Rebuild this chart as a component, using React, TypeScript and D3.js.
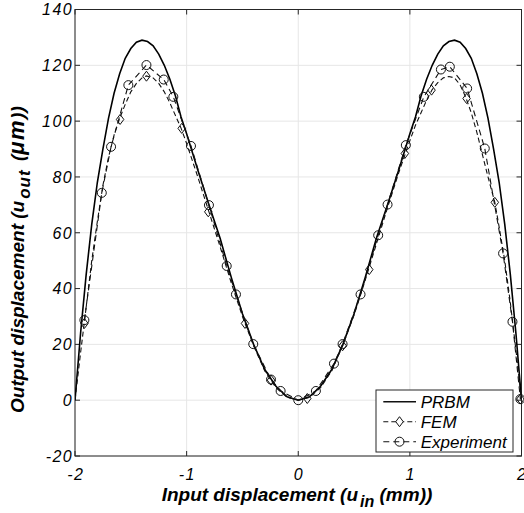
import React from "react";
import * as d3 from "d3";

const xTicks = [-2, -1, 0, 1, 2];
const yTicks = [-20, 0, 20, 40, 60, 80, 100, 120, 140];

const prbmX = [-2, -1.95, -1.9, -1.85, -1.8, -1.75, -1.7, -1.65, -1.6, -1.55, -1.5, -1.45, -1.4, -1.35, -1.3, -1.25, -1.2, -1.15, -1.1, -1.05, -1.0, -0.9, -0.8, -0.7, -0.6, -0.5, -0.4, -0.3, -0.2, -0.1, 0,
  0.1, 0.2, 0.3, 0.4, 0.5, 0.6, 0.7, 0.8, 0.9, 1.0, 1.05, 1.1, 1.15, 1.2, 1.25, 1.3, 1.35, 1.4, 1.45, 1.5, 1.55, 1.6, 1.65, 1.7, 1.75, 1.8, 1.85, 1.9, 1.95, 2];
const prbmY = [0, 24, 45, 63, 78, 90, 101, 110, 117, 122.5, 126, 128.3, 129, 128.5, 127, 124, 120, 115, 109, 101.5, 95.5, 82.5, 70, 58, 44, 31, 20, 11, 5, 1.2, 0,
  1.2, 5, 11, 20, 31, 44, 58, 70, 82.5, 95.5, 101.5, 109, 115, 120, 124, 127, 128.5, 129, 128.3, 126, 122.5, 117, 110, 101, 90, 78, 63, 45, 24, 0];

const femX = [-2, -1.95, -1.916, -1.85, -1.8, -1.75, -1.7, -1.65, -1.6, -1.55, -1.5, -1.45, -1.4, -1.36, -1.3, -1.25, -1.2, -1.15, -1.1, -1.05, -1.0, -0.9, -0.8, -0.7, -0.6, -0.5, -0.4, -0.3, -0.2, -0.1, 0,
  0.1, 0.2, 0.3, 0.4, 0.5, 0.6, 0.7, 0.8, 0.9, 1.0, 1.05, 1.1, 1.15, 1.2, 1.25, 1.3, 1.35, 1.4, 1.45, 1.5, 1.55, 1.6, 1.65, 1.7, 1.761, 1.8, 1.85, 1.9, 1.95, 2];
const femY = [0, 17, 28, 50, 64, 77, 87, 95, 101, 106, 110.5, 113.5, 115.5, 116.2, 115.5, 113.5, 110.5, 106.5, 102, 97.5, 92, 80, 67.5, 55, 42, 30, 19.5, 10.5, 4.5, 1, 0,
  1, 4.5, 10.5, 19.8, 30.5, 43, 56, 69, 81.5, 93, 98.5, 103, 107.5, 111.3, 113.8, 115.5, 116, 115.5, 113, 108.6, 103, 96, 88, 80, 70.9, 62, 50, 35, 18, 0];

const femMarkX = [-1.916, -1.596, -1.36, -1.044, -0.806, -0.477, -0.244, 0.081, 0.397, 0.636, 0.955, 1.194, 1.508, 1.761, 1.99];
const femMarkY = [27.5, 100.6, 116.1, 97.4, 67.5, 27.5, 7.2, 0.6, 19.5, 46.8, 88.4, 111.1, 108.1, 70.9, 0.4];

const expX = [-1.916, -1.76, -1.677, -1.522, -1.36, -1.205, -1.119, -0.961, -0.8, -0.641, -0.558, -0.403, -0.244, -0.158, 0, 0.158, 0.32, 0.397, 0.558, 0.716, 0.8, 0.964, 1.125, 1.278, 1.358, 1.513, 1.671, 1.835, 1.919, 1.99];
const expY = [28.7, 74.3, 90.8, 112.9, 120.1, 114.9, 108.7, 91.1, 69.9, 48.1, 37.9, 20.1, 7.4, 3.3, 0, 3.3, 13.1, 20.1, 37.9, 59.1, 70.1, 91.4, 108.7, 118.5, 119.5, 111.7, 90.2, 52.6, 28.1, 0.4];

const legendLabels = ["PRBM", "FEM", "Experiment"];

export default function App() {
  const W = 524, H = 513;
  const L = 75, R = 521.5, T = 9.5, B = 456;
  const x = d3.scaleLinear().domain([-2, 2]).range([L, R]);
  const y = d3.scaleLinear().domain([-20, 140]).range([B, T]);
  const font = "'Liberation Sans', Arial, Helvetica, sans-serif";
  const axisColor = "#262626";
  const line = d3.line<[number, number]>().x(d => x(d[0])).y(d => y(d[1]));
  const prbm = prbmX.map((v, i) => [v, prbmY[i]] as [number, number]);
  const fem = femX.map((v, i) => [v, femY[i]] as [number, number]);
  const exp = expX.map((v, i) => [v, expY[i]] as [number, number]);
  const femM = femMarkX.map((v, i) => [v, femMarkY[i]] as [number, number]);
  const diamond = (cx: number, cy: number, r = 5) => `M${cx},${cy - r}L${cx + r * 0.75},${cy}L${cx},${cy + r}L${cx - r * 0.75},${cy}Z`;
  const tl = 5;
  const lgX = 376, lgY = 390, lgW = 137, lgH = 62;
  const rows = [401.7, 421.7, 441.7];
  return (
    <svg width={W} height={H} style={{ position: "absolute", left: 0, top: 0, background: "#fff" }} fontFamily={font}>
      <defs>
        <clipPath id="clip"><rect x={L} y={T} width={R - L} height={B - T} /></clipPath>
      </defs>
      {xTicks.map(t => <line key={"gx" + t} x1={x(t)} x2={x(t)} y1={T} y2={B} stroke="#e6e6e6" strokeWidth={1} />)}
      {yTicks.map(t => <line key={"gy" + t} x1={L} x2={R} y1={y(t)} y2={y(t)} stroke="#e6e6e6" strokeWidth={1} />)}
      <rect x={L} y={T} width={R - L} height={B - T} fill="none" stroke={axisColor} strokeWidth={1} />
      {xTicks.map(t => (
        <g key={"tx" + t}>
          <line x1={x(t)} x2={x(t)} y1={B} y2={B - tl} stroke={axisColor} />
          <line x1={x(t)} x2={x(t)} y1={T} y2={T + tl} stroke={axisColor} />
          <text x={x(t) + 0.7} y={480} textAnchor="middle" fontSize={16} letterSpacing={1.4} fontStyle="italic" fill="#000">{t}</text>
        </g>
      ))}
      {yTicks.map(t => (
        <g key={"ty" + t}>
          <line x1={L} x2={L + tl} y1={y(t)} y2={y(t)} stroke={axisColor} />
          <line x1={R} x2={R - tl} y1={y(t)} y2={y(t)} stroke={axisColor} />
          <text x={73} y={y(t)} dy="0.36em" textAnchor="end" fontSize={16} letterSpacing={1.4} fontStyle="italic" fill="#000">{t}</text>
        </g>
      ))}
      <g clipPath="url(#clip)">
        <path d={line(prbm) || ""} fill="none" stroke="#000" strokeWidth={1.6} />
        <path d={line(fem) || ""} fill="none" stroke="#111" strokeWidth={1.1} strokeDasharray="5,3" />
        <path d={line(exp) || ""} fill="none" stroke="#111" strokeWidth={1.1} strokeDasharray="6,4" />
      </g>
      {femM.map((d, i) => <path key={"fm" + i} d={diamond(x(d[0]), y(d[1]))} fill="none" stroke="#111" strokeWidth={1} />)}
      {exp.map((d, i) => <circle key={"em" + i} cx={x(d[0])} cy={y(d[1])} r={4.5} fill="none" stroke="#111" strokeWidth={1} />)}
      <text x={297} y={501} textAnchor="middle" fontSize={19} fontWeight="bold" fontStyle="italic" fill="#000">
        Input displacement (u<tspan dx={2} dy={6} fontSize={16}>in</tspan><tspan dy={-6}> (mm))</tspan>
      </text>
      <text transform={`translate(23.5,413) rotate(-90)`} textAnchor="start" fontSize={19} fontWeight="bold" fontStyle="italic" fill="#000">
        Output displacement (u<tspan dx={2} dy={6} fontSize={17} letterSpacing={1}>out</tspan><tspan dy={-6} dx={3}> (</tspan><tspan fontSize={22} letterSpacing={1.5}>μm</tspan><tspan>))</tspan>
      </text>
      <rect x={lgX} y={lgY} width={lgW} height={lgH} fill="#fff" stroke={axisColor} strokeWidth={1} />
      {legendLabels.map((lab, i) => (
        <g key={lab}>
          <line x1={383.3} x2={416} y1={rows[i]} y2={rows[i]} stroke="#111" strokeWidth={i === 0 ? 1.6 : 1.1} strokeDasharray={i === 0 ? undefined : i === 1 ? "5,3" : "6,4"} />
          {i === 1 && <path d={diamond(399.5, rows[i])} fill="#fff" stroke="#111" strokeWidth={1} />}
          {i === 2 && <circle cx={399.5} cy={rows[i]} r={4.5} fill="none" stroke="#111" strokeWidth={1} />}
          <text x={420.7} y={rows[i]} dy="0.36em" fontSize={17} fontStyle="italic" fill="#000">{lab}</text>
        </g>
      ))}
    </svg>
  );
}
